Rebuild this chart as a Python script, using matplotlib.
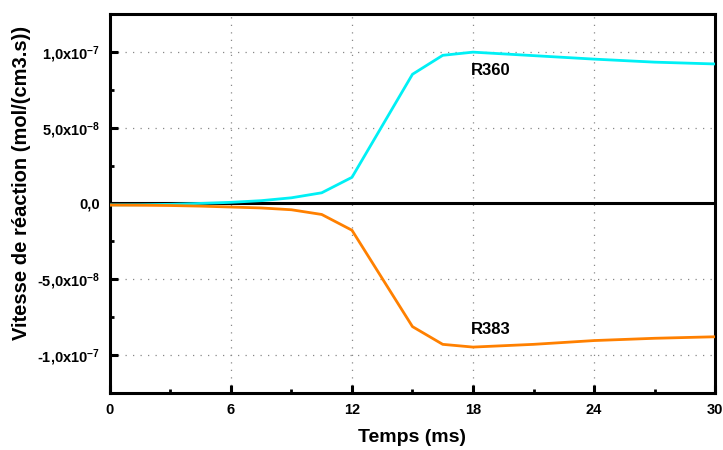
import matplotlib
matplotlib.use("Agg")
import matplotlib.pyplot as plt
from matplotlib.ticker import MultipleLocator, FixedLocator

plt.rcParams['font.family'] = ['Liberation Sans', 'DejaVu Sans']
plt.rcParams['font.weight'] = 'bold'
plt.rcParams['mathtext.fontset'] = 'custom'
plt.rcParams['mathtext.rm'] = 'Liberation Sans:bold'
plt.rcParams['mathtext.bf'] = 'Liberation Sans:bold'
plt.rcParams['mathtext.default'] = 'bf'

# temps (ms)
temps = [0, 1.5, 3, 4.5, 6, 7.5, 9, 10.5, 12, 15, 16.5, 18, 21, 24, 27, 30]
# vitesses de reaction (mol/(cm3.s))
r360 = [-1.0e-9, -0.9e-9, -0.6e-9, 0.0, 0.7e-9, 1.8e-9, 3.7e-9, 7.0e-9, 1.72e-8,
        8.52e-8, 9.77e-8, 9.98e-8, 9.75e-8, 9.52e-8, 9.32e-8, 9.2e-8]
r383 = [-1.1e-9, -1.2e-9, -1.4e-9, -1.8e-9, -2.4e-9, -3.0e-9, -4.2e-9, -7.3e-9, -1.77e-8,
        -8.13e-8, -9.3e-8, -9.48e-8, -9.3e-8, -9.05e-8, -8.9e-8, -8.8e-8]

yticks = [-1.0e-7, -5.0e-8, 0.0, 5.0e-8, 1.0e-7]
ytick_labels = [r'-1,0x10$^{-7}$', r'-5,0x10$^{-8}$', '0,0', r'5,0x10$^{-8}$', r'1,0x10$^{-7}$']

fig = plt.figure(figsize=(7.23, 4.5), dpi=100)
ax = fig.add_axes([0.152, 0.127, 0.837, 0.842])

ax.axhline(0, color='black', lw=2.2, zorder=2)
ax.plot(temps, r360, color='#00F0F5', lw=2.0, zorder=3)
ax.plot(temps, r383, color='#FF8000', lw=2.0, zorder=3)

ax.text(17.9, 0.877e-7, 'R360', fontsize=12, fontweight='bold', ha='left', va='center')
ax.text(17.9, -0.834e-7, 'R383', fontsize=12, fontweight='bold', ha='left', va='center')

ax.set_xlim(0, 30)
ax.set_ylim(-1.25e-7, 1.25e-7)
ax.xaxis.set_major_locator(MultipleLocator(6))
ax.xaxis.set_minor_locator(MultipleLocator(3))
ax.yaxis.set_major_locator(FixedLocator(yticks))
ax.set_yticklabels(ytick_labels)
ax.yaxis.set_minor_locator(MultipleLocator(2.5e-8))

ax.tick_params(which='major', direction='in', length=6, width=2.2, labelsize=10.5, pad=7)
ax.tick_params(which='minor', direction='in', length=3, width=2)
ax.tick_params(top=False, right=False)

for s in ax.spines.values():
    s.set_linewidth(2.2)

ax.grid(True, which='major', linestyle=(0, (1, 5)), color='#888888', lw=0.9)

ax.set_xlabel('Temps (ms)', fontsize=14, fontweight='bold', labelpad=9)
ax.set_ylabel('Vitesse de réaction (mol/(cm3.s))', fontsize=14.5, fontweight='bold')
ax.yaxis.set_label_coords(-0.13, 0.553)

fig.savefig('out.png', dpi=100)
